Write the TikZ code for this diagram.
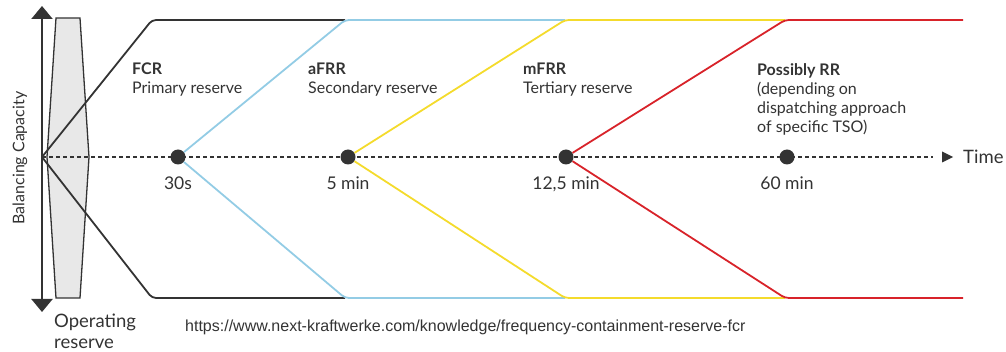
\documentclass[tikz,border=0pt]{standalone}
\usepackage{fontspec}
\setmainfont{Lato}
\newfontfamily\urlfont{Liberation Sans}
\usetikzlibrary{arrows.meta,positioning}

\definecolor{ink}{HTML}{333333}
\definecolor{afrrline}{HTML}{93CCE5}
\definecolor{mfrrline}{HTML}{F4DB2C}
\definecolor{rrline}{HTML}{D8232A}

\begin{document}
\begin{tikzpicture}[x=1pt,y=-1pt,
    reserve/.style={line width=1.8pt,rounded corners=4pt},
    dot/.style={circle,fill=ink,inner sep=0pt,minimum size=15pt},
    txt/.style={font=\fontsize{16}{19}\selectfont,text=ink,inner sep=0pt},
    bigtxt/.style={txt,font=\fontsize{18.5}{21}\selectfont},
    timelbl/.style={txt,font=\fontsize{17.5}{20}\selectfont,text height=12.5pt,text depth=0pt}]
  \useasboundingbox (0,0) rectangle (1006,352);

  % operating reserve band and capacity arrow
  \filldraw[fill=gray!18,draw=ink,line width=1.3pt]
    (56,18) -- (80,18) -- (89,157) -- (80,298) -- (56,298) -- (47,157) -- cycle;
  \coordinate (vtop) at (42,6);
  \coordinate (vbot) at (42,312);
  \draw[line width=2.2pt,ink,{Triangle[length=13pt,width=21pt]}-{Triangle[length=13pt,width=21pt]}] (vbot) -- (vtop);

  % time axis with the four marks
  \coordinate (o) at (42,157);
  \coordinate (tend) at (933,157);
  \draw[ink,line width=1.4pt,dash pattern=on 4pt off 3pt] (o) -- (tend);
  \fill[ink] (tend) ++(9,-5.5) -- ++(11,5.5) -- ++(-11,5.5) -- cycle;
  \node[dot] (t1) at (178,157) {};
  \node[dot] (t2) at (348,157) {};
  \node[dot] (t3) at (566,157) {};
  \node[dot] (t4) at (787,157) {};

  \coordinate (u1) at (152,20);  \coordinate (d1) at (152,298);
  \coordinate (u2) at (345,20);  \coordinate (d2) at (345,298);
  \coordinate (u3) at (565,20);  \coordinate (d3) at (565,298);
  \coordinate (u4) at (785,20);  \coordinate (d4) at (785,298);
  \coordinate (u5) at (963,20);  \coordinate (d5) at (963,298);

  \draw[reserve,ink] (o) -- (u1) -- (u2);
  \draw[reserve,ink] (o) -- (d1) -- (d2);
  \draw[reserve,afrrline] (t1) -- (u2) -- (u3);
  \draw[reserve,afrrline] (t1) -- (d2) -- (d3);
  \draw[reserve,mfrrline] (t2) -- (u3) -- (u4);
  \draw[reserve,mfrrline] (t2) -- (d3) -- (d4);
  \draw[reserve,rrline] (t3) -- (u4) -- (u5);
  \draw[reserve,rrline] (t3) -- (d4) -- (d5);

  \node[timelbl,below=12.5pt of t1] (l1) {30s};
  \node[timelbl,below=12.5pt of t2] (l2) {5 min};
  \node[timelbl,below=12.5pt of t3] (l3) {12,5 min};
  \node[timelbl,below=12.5pt of t4] (l4) {60 min};
  \node[bigtxt,anchor=west] (time) at (963,157) {Time};

  \node[txt,align=left,anchor=north west] (fcr) at (132,63) {\textbf{FCR}\\Primary reserve};
  \node[txt,align=left,anchor=north west] (afrr) at (308,63) {\textbf{aFRR}\\Secondary reserve};
  \node[txt,align=left,anchor=north west] (mfrr) at (523,63) {\textbf{mFRR}\\Tertiary reserve};
  \node[txt,align=left,anchor=north west] (rr) at (757,63)
    {\textbf{Possibly RR}\\(depending on\\dispatching approach\\of specific TSO)};

  \node[txt,rotate=90] (cap) at (20,158) {Balancing Capacity};
  \node[bigtxt,align=left,anchor=north west] (opres) at (54,314) {Operating\\reserve};
  \node[font=\urlfont\fontsize{16}{19}\selectfont,text=ink,inner sep=0pt,anchor=base west] (url)
    at (185,332) {https://www.next-kraftwerke.com/knowledge/frequency-containment-reserve-fcr};
\end{tikzpicture}
\end{document}
